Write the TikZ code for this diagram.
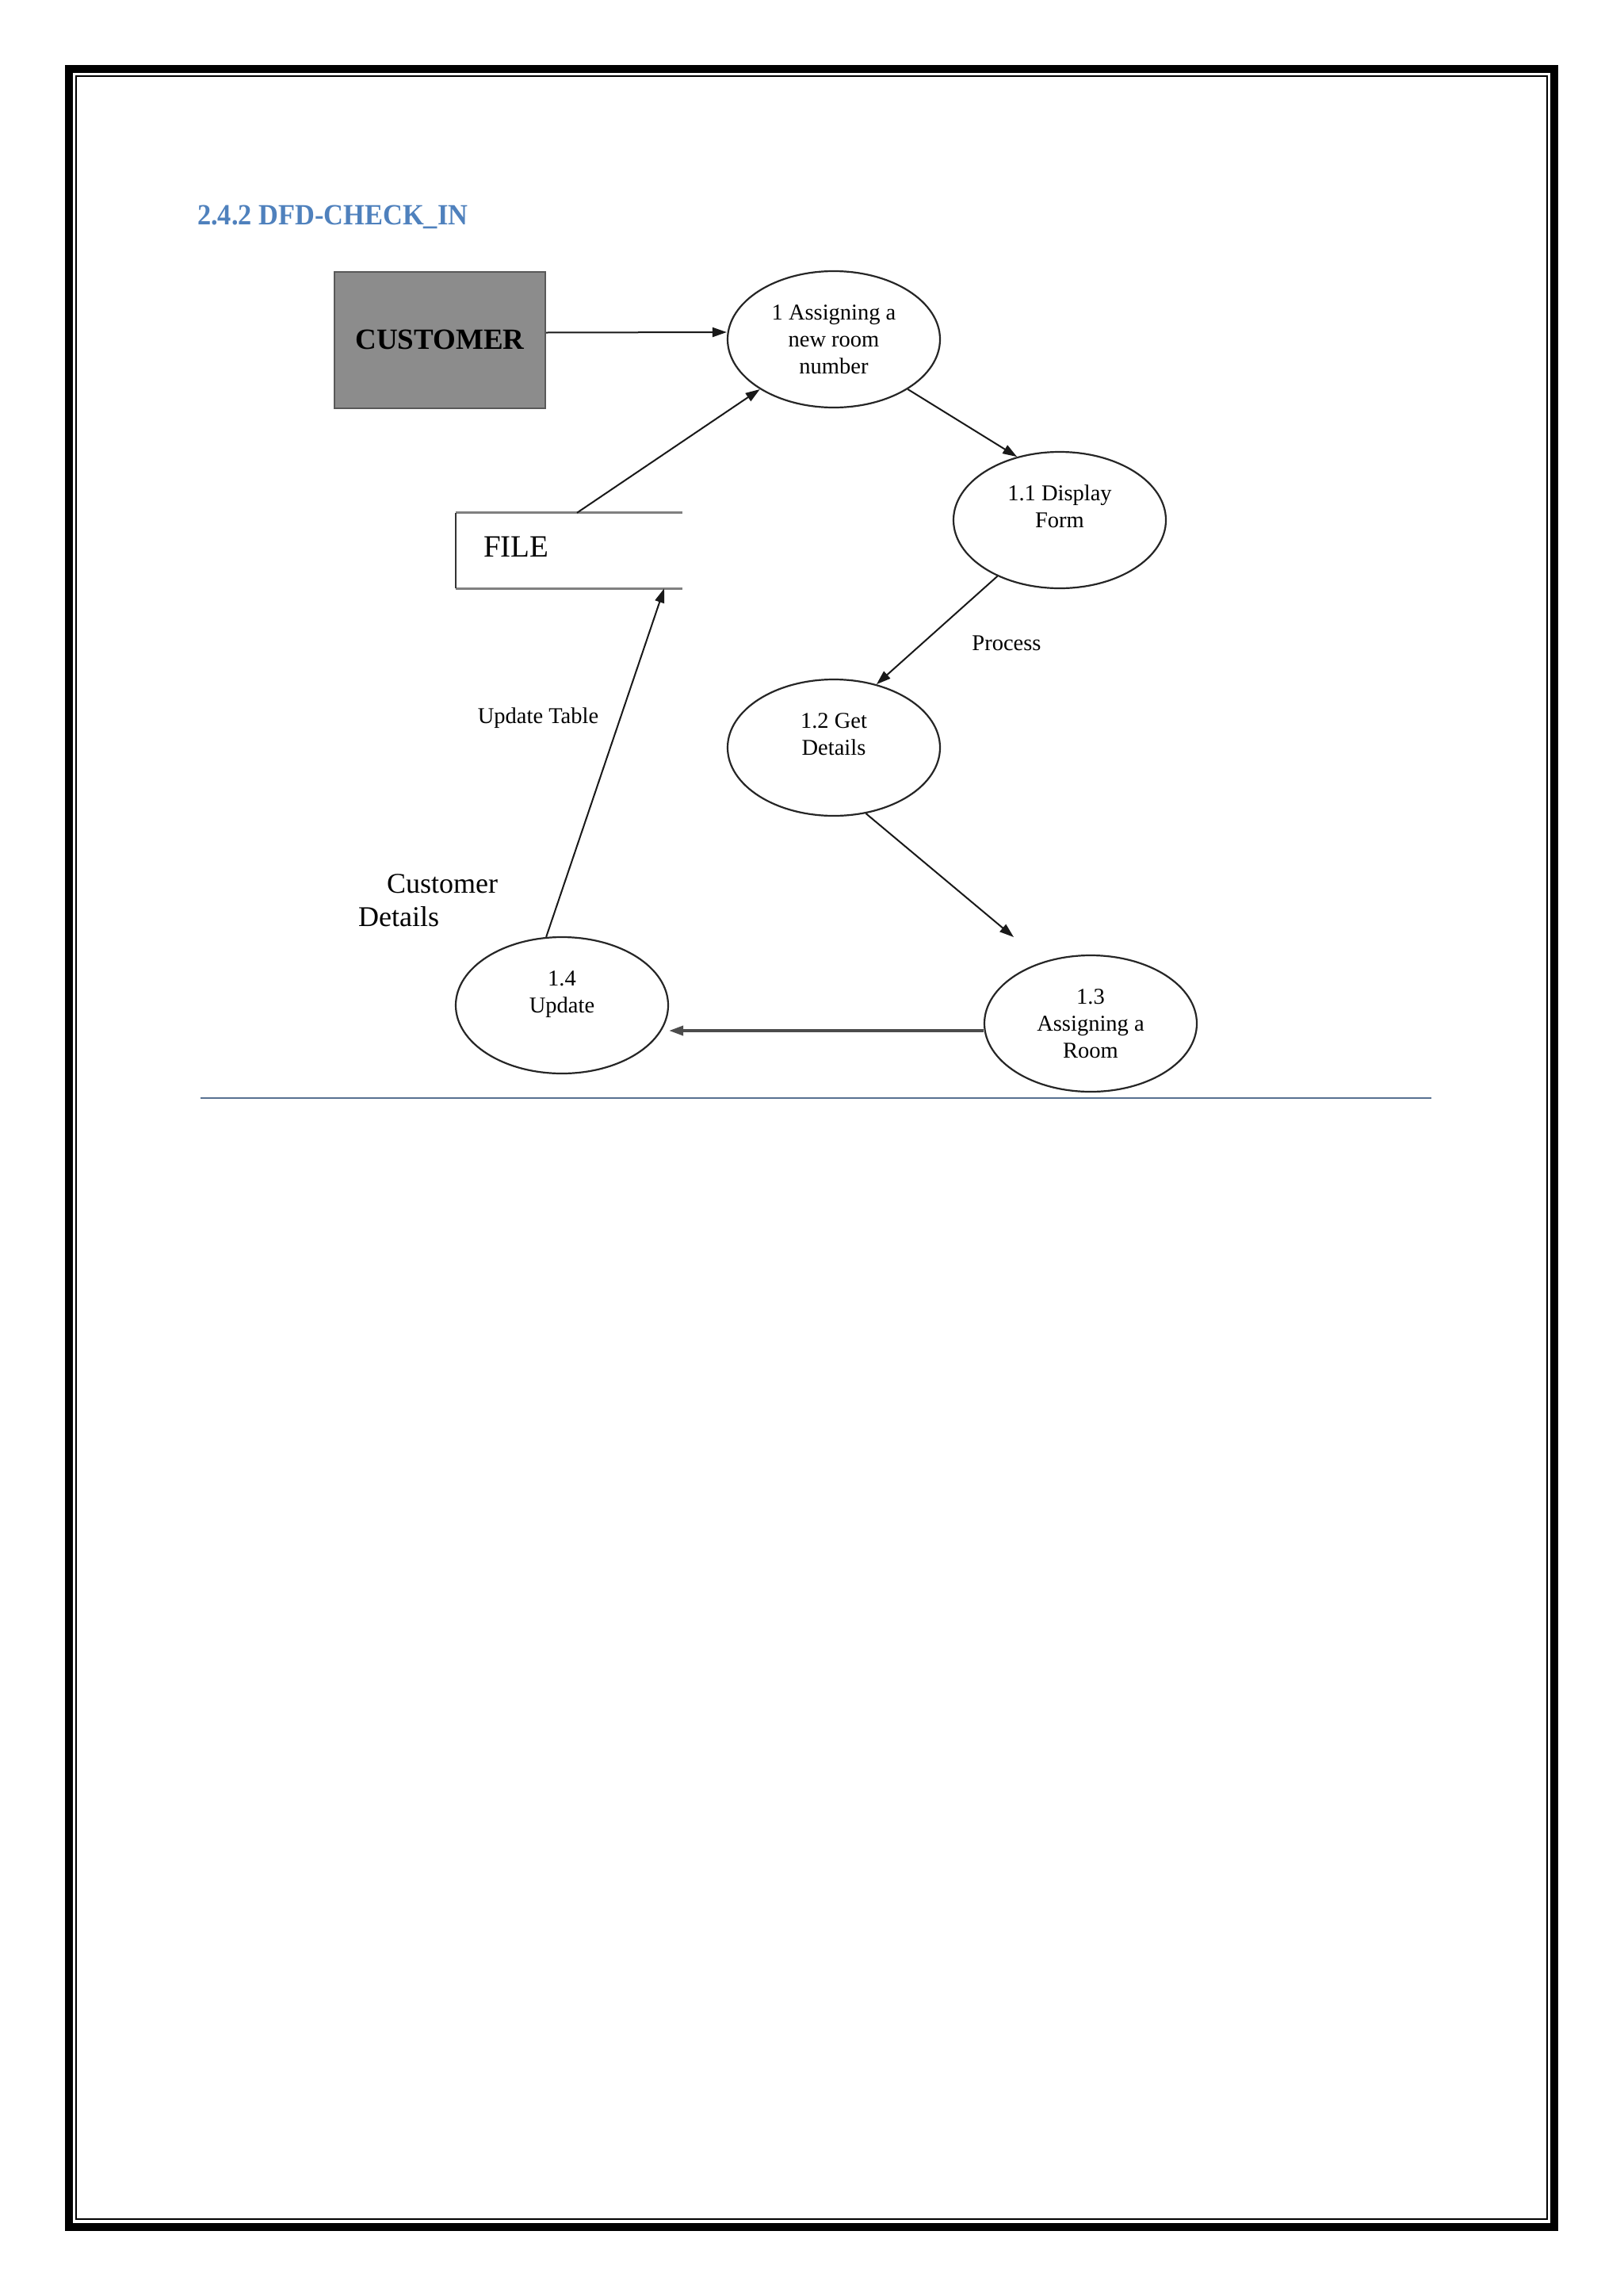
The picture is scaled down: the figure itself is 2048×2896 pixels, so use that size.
\documentclass[tikz,border=0pt]{standalone}
\usepackage{fontspec}
\setmainfont{Liberation Serif}
\usetikzlibrary{arrows.meta,shapes.geometric}
\definecolor{headblue}{RGB}{79,129,189}
\definecolor{rulecol}{RGB}{88,112,145}
\begin{document}
\begin{tikzpicture}[x=1pt,y=-1pt,
  proc/.style={ellipse, draw=black!85, line width=2.2pt, minimum width=268pt, minimum height=172pt, inner sep=0pt, align=center, font=\fontsize{28.5}{34}\selectfont},
  flow/.style={line width=2pt, draw=black!90, -{Triangle[length=18pt,width=12pt]}},
  lbl/.style={font=\fontsize{28.5}{34}\selectfont, inner sep=0pt, anchor=base},
  biglbl/.style={font=\fontsize{36}{40}\selectfont, inner sep=0pt, anchor=base west}]
\useasboundingbox (0,0) rectangle (2048,2896);
\fill[white] (0,0) rectangle (2048,2896);
% page border
\draw[line width=10pt] (87,87) rectangle (1961,2809);
\draw[line width=2.5pt] (96,96) rectangle (1952,2799);
% title
\node[anchor=base west, inner sep=0pt, text=headblue, font=\bfseries\fontsize{37}{40}\selectfont, xscale=0.93] (title) at (249,283) {2.4.2 DFD-CHECK\_IN};
% external entity
\node[draw=black!65, fill=black!45, line width=2pt, minimum width=266pt, minimum height=172pt, inner sep=0pt, font=\bfseries\fontsize{37}{40}\selectfont] (cust) at (555,428.5) {CUSTOMER};
% processes
\node[proc] (p1) at (1052,428) {1 Assigning a\\new room\\number};
\node[proc] (p11) at (1337,656) {1.1 Display\\Form\\\mbox{}};
\node[proc] (p12) at (1052,943) {1.2 Get\\Details\\\mbox{}};
\node[proc] (p13) at (1376,1291) {1.3\\Assigning a\\Room};
\node[proc] (p14) at (709,1268) {1.4\\Update\\\mbox{}};
% data store
\node[minimum width=286pt, minimum height=95pt, inner sep=0pt] (file) at (718,694.5) {};
\draw[line width=3pt, draw=black!50] (file.north west) -- (file.north east);
\draw[line width=3pt, draw=black!50] (file.south west) -- (file.south east);
\draw[line width=1.6pt, draw=black!80] (file.north west) -- (file.south west);
\node[anchor=base west, inner sep=0pt, font=\fontsize{39}{44}\selectfont] (filetxt) at (610,702) {FILE};
% flows
\draw[flow] ([yshift=9pt]cust.east) -- ([yshift=9pt]p1.west);
\draw[flow] ([xshift=10pt]file.north) -- (p1);
\draw[flow] (p1.-34.4) -- (p11.124);
\draw[flow] (p11.-138.4) -- (p12.56.2);
\coordinate (t13) at (1279,1182);
\draw[flow] (p12.-64.8) -- (t13);
\draw[flow, line width=3.5pt, draw=black!70] ([yshift=-9pt]p13.west) -- ([yshift=-32pt]p14.east);
\draw[flow] (p14.103.1) -- ([xshift=120pt]file.south);
% labels
\node[lbl] (process) at (1270,820) {Process};
\node[lbl] (updtab) at (679,912) {Update Table};
\node[biglbl] (custd1) at (488,1126) {Customer};
\node[biglbl] (custd2) at (452,1168) {Details};
% rule
\draw[rulecol, line width=2.5pt] (253,1385) -- (1806,1385);
\end{tikzpicture}
\end{document}
